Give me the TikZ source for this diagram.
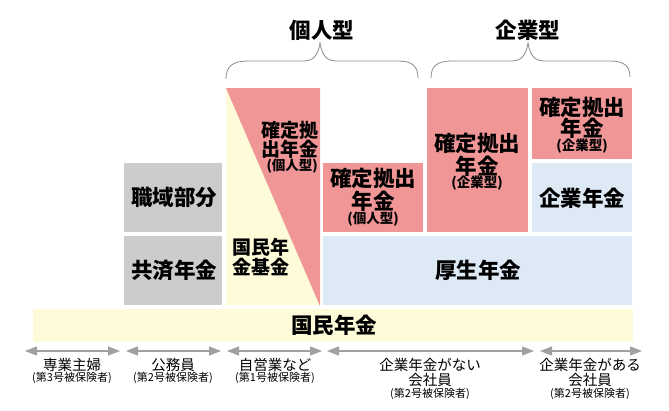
\documentclass[tikz,border=0pt]{standalone}
\usepackage{fontspec}
\setmainfont{Noto Sans CJK JP}
\usetikzlibrary{arrows.meta}
\definecolor{pinkc}{RGB}{240,150,150}
\definecolor{bluec}{RGB}{221,234,246}
\definecolor{grayc}{RGB}{204,204,204}
\definecolor{yellowc}{RGB}{253,251,216}
\definecolor{arrowc}{RGB}{160,160,160}
\definecolor{bracec}{RGB}{140,140,140}
\begin{document}
\begin{tikzpicture}[x=1pt,y=-1pt,
  box/.style={draw=none,inner sep=0pt,anchor=north west},
  big/.style={inner sep=0pt,font=\bfseries\fontsize{21.5}{23}\selectfont},
  mid/.style={inner sep=0pt,font=\bfseries\fontsize{19}{21}\selectfont},
  paren/.style={inner sep=0pt,font=\bfseries\fontsize{13.5}{14}\selectfont},
  lab/.style={inner sep=0pt,font=\fontsize{14.5}{15}\selectfont},
  small/.style={inner sep=0pt,font=\fontsize{11}{12}\selectfont},
  span/.style={draw=arrowc,line width=1.1pt,{Triangle[length=12pt,width=9pt]}-{Triangle[length=12pt,width=9pt]}},
  brace/.style={draw=bracec,line width=0.8pt}]
\useasboundingbox[fill=white] (0,0) rectangle (669,410);

% boxes
\node[box,fill=grayc,minimum width=98pt,minimum height=69pt] (shokuikibox) at (124,163) {};
\node[box,fill=grayc,minimum width=98pt,minimum height=69pt] (kyosaibox) at (124,236) {};
\node[box,fill=yellowc,minimum width=94pt,minimum height=217pt] (kikinbox) at (226,88) {};
\fill[pinkc] (226,88) -- (320,88) -- (320,306) -- cycle;
\node[box,fill=pinkc,minimum width=100pt,minimum height=69pt] (dcindbox) at (323,163) {};
\node[box,fill=pinkc,minimum width=101pt,minimum height=144pt] (dcentbox) at (427,88) {};
\node[box,fill=pinkc,minimum width=100pt,minimum height=71pt] (dcent2box) at (532,88) {};
\node[box,fill=bluec,minimum width=100pt,minimum height=69pt] (kigyobox) at (532,163) {};
\node[box,fill=bluec,minimum width=309pt,minimum height=69pt] (koseibox) at (323,236) {};
\node[box,fill=yellowc,minimum width=600pt,minimum height=33pt] (kokuminbox) at (33,309) {};

% texts in boxes
\node[big] (shokuiki) at (174,197) {職域部分};
\node[big] (kyosai) at (174,270) {共済年金};
\node[mid,anchor=east] (tri1) at (319,130) {確定拠};
\node[mid,anchor=east] (tri2) at (319,149) {出年金};
\node[paren,anchor=east] (tri3) at (318,166) {(個人型)};
\node[mid,anchor=west] (kikin1) at (232,247) {国民年};
\node[mid,anchor=west] (kikin2) at (232,267) {金基金};
\node[big] (dcind1) at (373,178) {確定拠出};
\node[big] (dcind2) at (373,201) {年金};
\node[paren] (dcind3) at (373,219) {(個人型)};
\node[big] (dcent1) at (477,143) {確定拠出};
\node[big] (dcent2) at (477,166) {年金};
\node[paren] (dcent3) at (477,183) {(企業型)};
\node[big] (dcentb1) at (582,107) {確定拠出};
\node[big] (dcentb2) at (582,128) {年金};
\node[paren] (dcentb3) at (582,146) {(企業型)};
\node[big] (kigyo) at (582,198) {企業年金};
\node[big] (kosei) at (478,270) {厚生年金};
\node[big] (kokumin) at (334,325) {国民年金};

% titles and braces
\node[big] (kojin) at (322,30) {個人型};
\node[big] (kigyogata) at (528,30) {企業型};
\draw[brace] (226,79) .. controls (226,66) and (233,61) .. (248,61) -- (303,61)
  .. controls (313,61) and (318,56) .. (320,43)
  .. controls (322,56) and (327,61) .. (337,61) -- (398,61)
  .. controls (412,61) and (418,66) .. (418,78);
\draw[brace] (431,78) .. controls (431,66) and (437,61) .. (452,61) -- (511,61)
  .. controls (521,61) and (526,56) .. (528,43)
  .. controls (530,56) and (535,61) .. (545,61) -- (610,61)
  .. controls (624,61) and (630,66) .. (630,77);

% bottom spans
\coordinate (a1) at (25,351); \coordinate (a2) at (120,351);
\coordinate (b1) at (126,351); \coordinate (b2) at (221,351);
\coordinate (c1) at (227,351); \coordinate (c2) at (322,351);
\coordinate (d1) at (327,351); \coordinate (d2) at (534,351);
\coordinate (e1) at (540,351); \coordinate (e2) at (642,351);
\draw[span] (a1) -- (a2);
\draw[span] (b1) -- (b2);
\draw[span] (c1) -- (c2);
\draw[span] (d1) -- (d2);
\draw[span] (e1) -- (e2);

\node[lab] (l1) at (72,365) {専業主婦};
\node[small] (s1) at (72,378) {(第3号被保険者)};
\node[lab] (l2) at (173,365) {公務員};
\node[small] (s2) at (173,378) {(第2号被保険者)};
\node[lab] (l3) at (275,365) {自営業など};
\node[small] (s3) at (275,378) {(第1号被保険者)};
\node[lab] (l4) at (430,365) {企業年金がない};
\node[lab] (l4b) at (430,380) {会社員};
\node[small] (s4) at (430,394) {(第2号被保険者)};
\node[lab] (l5) at (590,365) {企業年金がある};
\node[lab] (l5b) at (590,380) {会社員};
\node[small] (s5) at (590,394) {(第2号被保険者)};
\end{tikzpicture}
\end{document}
